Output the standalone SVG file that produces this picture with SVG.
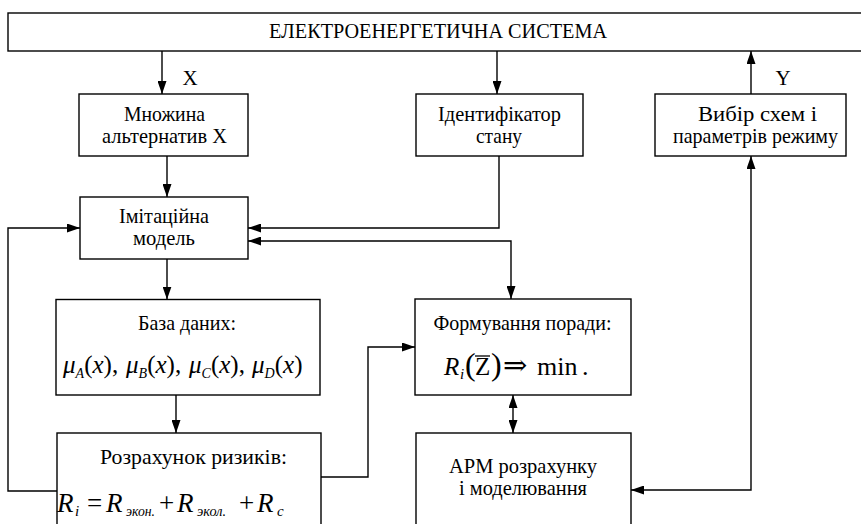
<svg xmlns="http://www.w3.org/2000/svg" width="861" height="524" viewBox="0 0 861 524">
<style>
  .box { fill: #fff; stroke: #000; stroke-width: 1.4; }
  .t { font-family: "Liberation Serif", "Times New Roman", serif; font-size: 21px; fill: #000; text-anchor: middle; }
  .m { font-family: "Liberation Serif", "Times New Roman", "DejaVu Serif", serif; fill: #000; }
  .it { font-style: italic; }
  .c { fill: none; stroke: #000; stroke-width: 1.4; }
  .arr { marker-end: url(#ah); }
  .arr2 { marker-start: url(#ah); marker-end: url(#ah); }
</style>
<defs>
  <marker id="ah" viewBox="0 0 13 9" refX="13" refY="4.5" markerWidth="13" markerHeight="9" markerUnits="userSpaceOnUse" orient="auto-start-reverse">
    <path d="M0,0 L13,4.5 L0,9 z" fill="#000"/>
  </marker>
</defs>

<g id="connectors">
  <line class="c arr" x1="162" y1="51" x2="162" y2="94"/>
  <line class="c arr" x1="497" y1="51" x2="497" y2="94"/>
  <line class="c arr" x1="751" y1="94" x2="751" y2="51"/>
  <line class="c arr" x1="167" y1="156" x2="167" y2="197"/>
  <path class="c arr" d="M499,156 V228 H248"/>
  <path class="c arr2" d="M248,241 H511 V299"/>
  <line class="c arr" x1="167" y1="259" x2="167" y2="299.5"/>
  <line class="c arr" x1="176" y1="395" x2="176" y2="433"/>
  <path class="c arr" d="M57,491 H8 V228 H80"/>
  <path class="c arr" d="M321,477 H368 V347 H415"/>
  <line class="c arr2" x1="513" y1="395" x2="513" y2="433"/>
  <path class="c arr2" d="M631,490 H751 V156"/>
  <text class="t" x="190" y="85">X</text>
  <text class="t" x="783" y="85">Y</text>
</g>

<g id="system">
  <rect class="box" x="8" y="13" width="870" height="38"/>
  <text class="t" x="438" y="38" textLength="338" lengthAdjust="spacingAndGlyphs">ЕЛЕКТРОЕНЕРГЕТИЧНА СИСТЕМА</text>
</g>

<g id="alternatives">
  <rect class="box" x="79" y="94" width="169" height="62"/>
  <text class="t" x="164.5" y="121" textLength="81" lengthAdjust="spacingAndGlyphs">Множина</text>
  <text class="t" x="164.5" y="143" textLength="125" lengthAdjust="spacingAndGlyphs">альтернатив X</text>
</g>

<g id="identifier">
  <rect class="box" x="416" y="94" width="167" height="62"/>
  <text class="t" x="499.5" y="121" textLength="123" lengthAdjust="spacingAndGlyphs">Ідентифікатор</text>
  <text class="t" x="499" y="143" textLength="46" lengthAdjust="spacingAndGlyphs">стану</text>
</g>

<g id="choice">
  <rect class="box" x="655" y="94" width="191" height="62"/>
  <text class="t" x="757.5" y="121" textLength="119" lengthAdjust="spacingAndGlyphs">Вибір схем і</text>
  <text class="t" x="755.5" y="143" textLength="165" lengthAdjust="spacingAndGlyphs">параметрів режиму</text>
</g>

<g id="model">
  <rect class="box" x="80" y="197" width="168" height="62"/>
  <text class="t" x="164" y="223" textLength="90" lengthAdjust="spacingAndGlyphs">Імітаційна</text>
  <text class="t" x="164" y="245" textLength="62" lengthAdjust="spacingAndGlyphs">модель</text>
</g>

<g id="database">
  <rect class="box" x="56" y="299.5" width="264" height="95.5"/>
  <text class="t" x="187" y="330" textLength="98" lengthAdjust="spacingAndGlyphs">База даних:</text>
  <text class="m" y="373" font-size="25">
    <tspan x="63" class="it">μ</tspan><tspan dy="5" font-size="14" class="it">A</tspan><tspan dy="-5">(</tspan><tspan class="it">x</tspan><tspan>),</tspan>
    <tspan x="126" class="it">μ</tspan><tspan dy="5" font-size="14" class="it">B</tspan><tspan dy="-5">(</tspan><tspan class="it">x</tspan><tspan>),</tspan>
    <tspan x="189" class="it">μ</tspan><tspan dy="5" font-size="14" class="it">C</tspan><tspan dy="-5">(</tspan><tspan class="it">x</tspan><tspan>),</tspan>
    <tspan x="252" class="it">μ</tspan><tspan dy="5" font-size="14" class="it">D</tspan><tspan dy="-5">(</tspan><tspan class="it">x</tspan><tspan>)</tspan>
  </text>
</g>

<g id="risks">
  <rect class="box" x="57" y="433" width="264" height="110"/>
  <text class="t" x="193.5" y="464" textLength="187" lengthAdjust="spacingAndGlyphs">Розрахунок ризиків:</text>
  <text class="m" y="512" font-size="27">
    <tspan x="57" class="it">R</tspan><tspan x="75" dy="4" font-size="15" class="it">i</tspan>
    <tspan x="87" dy="-4">=</tspan>
    <tspan x="106" class="it">R</tspan>
    <tspan x="159">+</tspan>
    <tspan x="177" class="it">R</tspan>
    <tspan x="239">+</tspan>
    <tspan x="257" class="it">R</tspan><tspan x="277" dy="4" font-size="15" class="it">c</tspan>
  </text>
  <text class="m it" x="126" y="516" font-size="15" textLength="29" lengthAdjust="spacingAndGlyphs">экон.</text>
  <text class="m it" x="197" y="516" font-size="15" textLength="29" lengthAdjust="spacingAndGlyphs">экол.</text>
</g>

<g id="advice">
  <rect class="box" x="415" y="299" width="216" height="96"/>
  <text class="t" x="522.5" y="330" textLength="178" lengthAdjust="spacingAndGlyphs">Формування поради:</text>
  <text class="m" y="375" font-size="25">
    <tspan x="444" class="it">R</tspan><tspan x="460" dy="4" font-size="15" class="it">i</tspan>
    <tspan x="465" dy="-4" font-size="32">(</tspan>
    <tspan x="475">Z</tspan>
    <tspan x="491" font-size="32">)</tspan>
    <tspan x="503" font-size="29">⇒</tspan>
    <tspan x="537" font-size="26">min</tspan>
    <tspan x="582" font-size="26">.</tspan>
  </text>
  <line x1="475" y1="356" x2="490" y2="356" stroke="#000" stroke-width="1.3"/>
</g>

<g id="workstation">
  <rect class="box" x="416" y="433" width="215" height="110"/>
  <text class="t" x="523" y="473" textLength="148" lengthAdjust="spacingAndGlyphs">АРМ розрахунку</text>
  <text class="t" x="523" y="495" textLength="128" lengthAdjust="spacingAndGlyphs">і моделювання</text>
</g>
</svg>
